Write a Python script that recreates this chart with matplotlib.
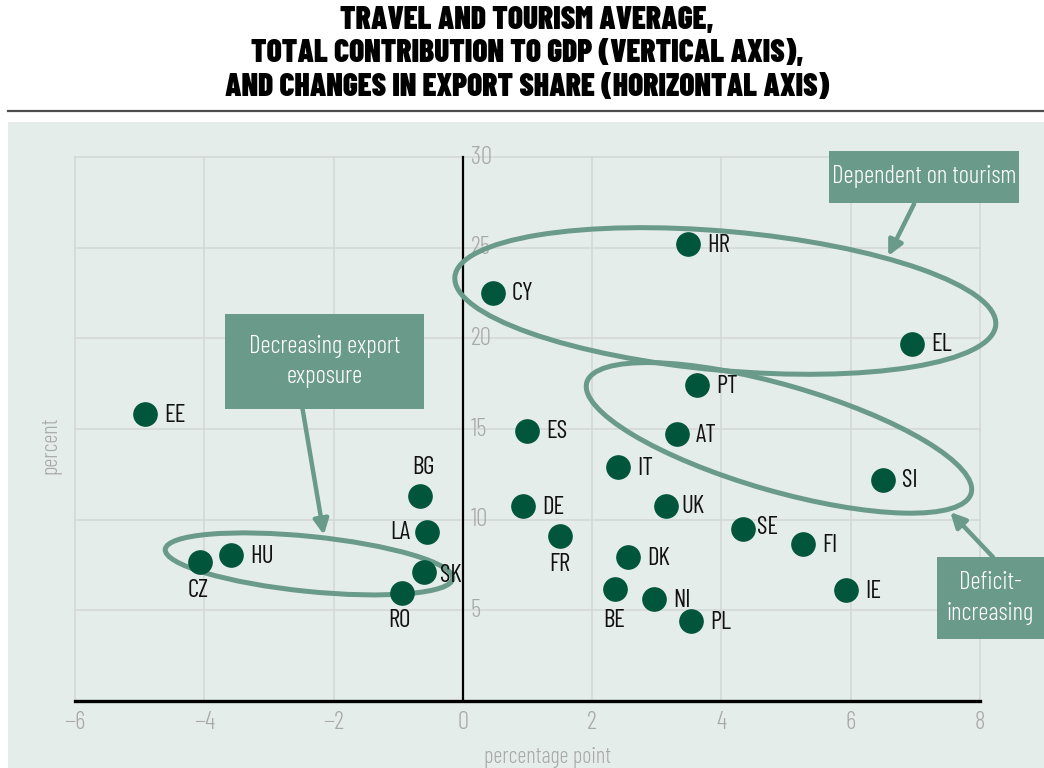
"""Travel and tourism contribution to GDP vs change in export share."""

import matplotlib
matplotlib.use("Agg")
import matplotlib.pyplot as plt
import matplotlib.transforms as mtransforms
from matplotlib.patches import Ellipse, Rectangle

plt.rcParams["font.family"] = ["Barlow Condensed", "DejaVu Sans"]

countries = ["EE", "CY", "HR", "EL", "PT", "ES", "AT", "IT", "SI", "BG", "DE", "UK", "LA",
             "FR", "SE", "FI", "HU", "CZ", "DK", "SK", "RO", "BE", "NI", "IE", "PL"]
export_change = [-4.92, 0.46, 3.48, 6.95, 3.62, 0.99, 3.31, 2.40, 6.50, -0.67, 0.93, 3.14, -0.56,
                 1.50, 4.33, 5.26, -3.59, -4.07, 2.56, -0.60, -0.94, 2.35, 2.96, 5.93, 3.53]
gdp_contribution = [15.8, 22.5, 25.2, 19.7, 17.4, 14.9, 14.7, 12.9, 12.2, 11.3, 10.75, 10.75, 9.3,
                    9.1, 9.5, 8.65, 8.05, 7.66, 7.94, 7.1, 5.95, 6.17, 5.62, 6.12, 4.41]
x_ticks = [-6, -4, -2, 0, 2, 4, 6, 8]
y_ticks = [5, 10, 15, 20, 25, 30]

DOT = "#00553a"
SAGE = "#6a9a89"
PANEL = "#e5edea"
GRID = "#d4d6d5"
TICK = "#a8a8a8"

# label placement: (dx px, dy px, ha)
label_pos = {
    "BG": (4, 29, "center"), "FR": (0, -29, "center"), "CZ": (-2, -28, "center"),
    "RO": (-3, -27, "center"), "BE": (-1, -31, "center"), "LA": (-16, 0, "right"),
    "SE": (14, 1, "left"), "SK": (16, -3, "left"), "UK": (16, 0, "left"),
}

fig = plt.figure(figsize=(10.44, 7.68), dpi=100)
fig.patches.append(Rectangle((8 / 1044, 0), 1036 / 1044, 646 / 768, transform=fig.transFigure,
                             fc=PANEL, ec="none", zorder=-1))
fig.add_artist(plt.Line2D([8 / 1044, 1], [1 - 111 / 768] * 2, color="#4d4d4d", lw=1.6))
fig.text(0.505, 1 - 54 / 768,
         "TRAVEL AND TOURISM AVERAGE,\nTOTAL CONTRIBUTION TO GDP (VERTICAL AXIS),\n"
         "AND CHANGES IN EXPORT SHARE (HORIZONTAL AXIS)",
         ha="center", va="center", fontsize=22.5, fontweight=900, linespacing=1.18)

ax = fig.add_axes([75 / 1044, 67 / 768, 905 / 1044, 544 / 768])
ax.set_facecolor("none")
ax.set_xlim(-6, 8)
ax.set_ylim(0, 30)
for v in x_ticks:
    ax.plot([v, v], [0, 30], color=GRID, lw=1.1, zorder=1, clip_on=False)
for v in y_ticks:
    ax.plot([-6, 8], [v, v], color=GRID, lw=1.1, zorder=1, clip_on=False)
ax.plot([0, 0], [0, 30], color="black", lw=1.6, zorder=2, clip_on=False)

for s in ["top", "right", "left"]:
    ax.spines[s].set_visible(False)
ax.spines["bottom"].set_linewidth(2.4)
ax.spines["bottom"].set_zorder(3)
ax.set_xticks(x_ticks)
ax.set_yticks([])
ax.tick_params(axis="x", length=0, pad=7, labelsize=18, labelcolor=TICK)
for lbl in ax.get_xticklabels():
    lbl.set_fontweight(300)
for v in y_ticks:
    ax.text(0.12, v, str(v), ha="left", va="center", fontsize=18, fontweight=300,
            color=TICK, zorder=2)

fig.text(548 / 1044, 1 - 757 / 768, "percentage point", ha="center", va="center",
         fontsize=16, fontweight=300, color=TICK)
fig.text(51 / 1044, 1 - 445 / 768, "percent", ha="center", va="center", rotation=90,
         fontsize=16, fontweight=300, color=TICK)

ax.scatter(export_change, gdp_contribution, s=280, color=DOT, zorder=5, clip_on=False)
for name, x, y in zip(countries, export_change, gdp_contribution):
    dx, dy, ha = label_pos.get(name, (19, -1, "left"))
    ax.annotate(name, (x, y), xytext=(dx, dy), textcoords="offset pixels", ha=ha,
                va="center", fontsize=18, color="#111111", zorder=6)


def pixel_anchor(x, y):
    return mtransforms.ScaledTranslation(x, y, ax.transData)


def add_ellipse(x, y, w, h, angle):
    ax.add_patch(Ellipse((0, 0), w, h, angle=angle, transform=pixel_anchor(x, y),
                         fill=False, ec=SAGE, lw=3.6, zorder=4, clip_on=False))


def add_box(x, y, w, h, text):
    ax.add_patch(Rectangle((-w / 2, -h / 2), w, h, transform=pixel_anchor(x, y),
                           fc=SAGE, ec="none", zorder=7, clip_on=False))
    ax.text(x, y, text, ha="center", va="center", color="white", fontsize=18,
            fontweight=300, linespacing=1.4, zorder=8, clip_on=False)


def add_arrow(start, tip):
    ax.annotate("", xy=tip, xytext=start,
                arrowprops=dict(arrowstyle="-|>,head_length=0.9,head_width=0.45",
                                color=SAGE, lw=3.2, shrinkA=0, shrinkB=0),
                zorder=6, annotation_clip=False)


add_ellipse(4.06, 22.06, 543, 139, -5.1)
add_ellipse(4.89, 14.51, 400, 106, -16.1)
add_ellipse(-2.38, 7.56, 289, 55, -5.8)

add_arrow((6.98, 27.41), (6.58, 24.54))
add_arrow((-2.48, 16.11), (-2.15, 9.16))
add_arrow((8.20, 7.94), (7.54, 10.42))

add_box(7.14, 28.90, 190, 52, "Dependent on tourism")
add_box(-2.14, 18.73, 199, 95, "Decreasing export\nexposure")
add_box(8.16, 5.68, 107, 82, "Deficit-\nincreasing")

fig.savefig("out.png", dpi=100)
